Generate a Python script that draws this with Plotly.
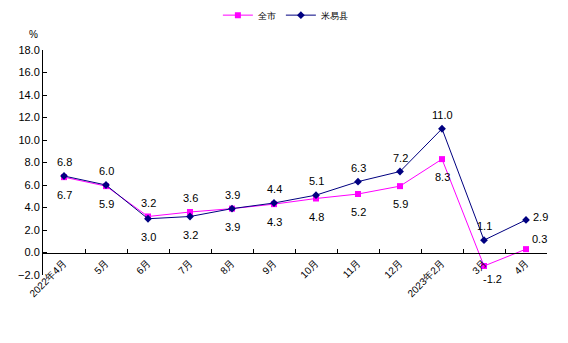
import plotly.graph_objects as go

categories = ["2022年4月", "5月", "6月", "7月", "8月", "9月", "10月", "11月", "12月", "2023年2月", "3月", "4月"]
city = [6.7, 5.9, 3.2, 3.6, 3.9, 4.3, 4.8, 5.2, 5.9, 8.3, -1.2, 0.3]
county = [6.8, 6.0, 3.0, 3.2, 3.9, 4.4, 5.1, 6.3, 7.2, 11.0, 1.1, 2.9]
city_name = "全市"
county_name = "米易县"

# label placement: "above", "below", or "right"
city_place = ["below", "below", "above", "above", "below", "below", "below", "below", "below", "below", "below", "aboveright"]
county_place = ["above", "above", "below", "below", "above", "above", "above", "above", "above", "above", "above", "right"]

font_family = "Liberation Sans, Arial, sans-serif"

fig = go.Figure()
fig.add_trace(go.Scatter(
    x=categories, y=city, name=city_name, mode="lines+markers",
    line=dict(color="#FF00FF", width=1),
    marker=dict(symbol="square", size=6, color="#FF00FF"),
    cliponaxis=False,
))
fig.add_trace(go.Scatter(
    x=categories, y=county, name=county_name, mode="lines+markers",
    line=dict(color="#000080", width=1),
    marker=dict(symbol="diamond", size=6, color="#000080"),
    cliponaxis=False,
))

shifts = {
    "above": (0, 14),
    "below": (0, -18),
    "right": (14, 3),
    "aboveright": (13, 10),
}
annotations = []
for vals, places in ((city, city_place), (county, county_place)):
    for cat, v, p in zip(categories, vals, places):
        dx, dy = shifts[p]
        if p == "below" and v < 0:
            dx, dy = 8, -13
        annotations.append(dict(
            x=cat, y=v, xref="x", yref="y", text=f"{v:.1f}", showarrow=False,
            xshift=dx, yshift=dy, font=dict(size=11, color="black", family=font_family),
        ))

annotations.append(dict(text="%", x=-0.005, xref="paper", xanchor="right",
                        y=1.07, yref="paper", yanchor="middle", showarrow=False,
                        font=dict(size=10)))

fig.update_layout(
    width=568, height=343,
    margin=dict(l=43, r=21, t=50, b=68, autoexpand=False),
    paper_bgcolor="white", plot_bgcolor="white",
    font=dict(family=font_family, size=11, color="black"),
    showlegend=True,
    legend=dict(orientation="h", x=0.347, xanchor="left", y=1.155, yanchor="middle",
                font=dict(size=9), bgcolor="rgba(0,0,0,0)"),
    xaxis=dict(
        type="category", anchor="free", position=0.1,
        showline=True, linecolor="black", linewidth=1,
        ticks="inside", ticklen=4, tickcolor="black", tickson="boundaries",
        tickangle=-45, showgrid=False, zeroline=False,
        tickfont=dict(size=10),
        range=[-0.5, 11.5],
    ),
    yaxis=dict(
        range=[-2, 18], dtick=2, tickformat=".1f",
        showline=True, linecolor="black", linewidth=1,
        ticks="inside", ticklen=4, tickcolor="black",
        showgrid=False, zeroline=False,
        tickfont=dict(size=11),
    ),
    annotations=annotations,
)

fig.write_html("out.html")
